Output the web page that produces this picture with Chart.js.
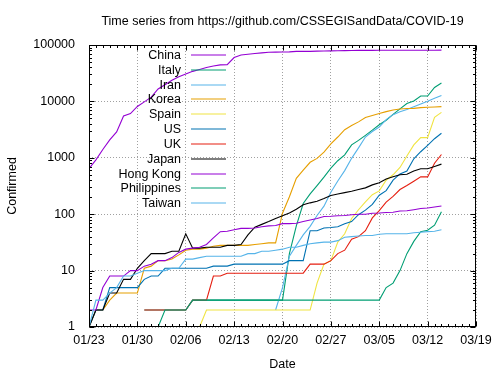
<!DOCTYPE html>
<html>
<head>
<meta charset="utf-8">
<script src="https://cdn.jsdelivr.net/npm/chart.js@4/dist/chart.umd.min.js"></script>
<style>
  html, body { margin: 0; padding: 0; background: #fff; }
  canvas { display: block; }
</style>
</head>
<body>
<canvas id="c" width="500" height="375"></canvas>
<script>
// ---- data (day 0 = 01/23 ... day 51 = 03/14) ----
const dates = ['01/23','01/24','01/25','01/26','01/27','01/28','01/29','01/30','01/31','02/01','02/02','02/03','02/04','02/05','02/06','02/07','02/08','02/09','02/10','02/11','02/12','02/13','02/14','02/15','02/16','02/17','02/18','02/19','02/20','02/21','02/22','02/23','02/24','02/25','02/26','02/27','02/28','02/29','03/01','03/02','03/03','03/04','03/05','03/06','03/07','03/08','03/09','03/10','03/11','03/12','03/13','03/14'];
const xTickLabels = ['01/23','01/30','02/06','02/13','02/20','02/27','03/05','03/12','03/19'];
const yTickLabels = ['1','10','100','1000','10000','100000'];
const yTickValues = [1,10,100,1000,10000,100000];
const countries = ['China','Italy','Iran','Korea','Spain','US','UK','Japan','Hong Kong','Philippines','Taiwan'];
const colors = ['#9400d3','#009e73','#56b4e9','#e69f00','#f0e442','#0072b2','#e51e10','#000000','#9400d3','#009e73','#56b4e9'];
const _ = null;
const china = [643,920,1406,2075,2877,5509,6087,8141,9802,11891,16630,19716,23707,27440,30587,34110,36814,39829,42354,44386,44759,59895,66358,68413,70513,72434,74211,74619,75077,75550,77001,77022,77241,77754,78166,78600,78928,79356,79932,80136,80261,80386,80537,80690,80770,80823,80860,80887,80921,80932,80945,80977];
const italy = [_,_,_,_,_,_,_,_,2,2,2,2,2,2,2,3,3,3,3,3,3,3,3,3,3,3,3,3,3,20,62,155,229,322,453,655,888,1128,1694,2036,2502,3089,3858,4636,5883,7375,9172,10149,12462,12462,17660,21157];
const iran = [_,_,_,_,_,_,_,_,_,_,_,_,_,_,_,_,_,_,_,_,_,_,_,_,_,_,_,2,5,18,28,43,61,95,139,245,388,593,978,1501,2336,2922,3513,4747,5823,6566,7161,8042,9000,10075,11364,12729];
const korea = [1,2,2,3,4,4,4,4,11,12,15,15,16,19,23,24,24,25,27,28,28,28,28,28,29,30,31,31,104,204,433,602,833,977,1261,1766,2337,3150,3736,4335,5186,5621,6088,6593,7041,7314,7478,7513,7755,7869,7979,8086];
const spain = [_,_,_,_,_,_,_,_,_,1,1,1,1,1,1,1,1,2,2,2,2,2,2,2,2,2,2,2,2,2,2,2,2,6,13,15,32,45,84,120,165,222,259,400,500,673,1073,1695,2277,2277,5232,6391];
const us = [1,2,2,5,5,5,5,5,7,8,8,11,11,11,11,11,11,11,12,12,12,13,13,13,13,13,13,13,13,15,15,15,51,51,57,58,60,68,74,98,118,149,217,262,402,518,583,959,1281,1663,2179,2726];
const uk = [_,_,_,_,_,_,_,_,2,2,2,2,2,2,2,3,3,3,8,8,9,9,9,9,9,9,9,9,9,9,9,9,13,13,13,15,20,23,36,40,51,86,116,164,207,274,322,384,459,459,802,1144];
const japan = [1,2,2,4,4,7,7,11,15,20,20,20,22,22,45,25,25,26,26,26,28,28,29,43,59,66,74,84,94,105,122,147,159,170,189,214,228,241,256,274,293,331,360,420,461,502,511,581,639,639,701,773];
const hongKong = [2,2,5,8,8,8,10,10,12,13,15,15,17,21,24,25,26,29,38,49,50,53,56,56,57,60,62,63,68,68,69,74,79,84,91,92,94,95,98,100,100,104,105,107,108,114,115,120,126,129,134,140];
const philippines = [_,_,_,_,_,_,_,1,1,1,1,2,2,2,2,3,3,3,3,3,3,3,3,3,3,3,3,3,3,3,3,3,3,3,3,3,3,3,3,3,3,3,3,5,6,10,20,33,49,52,64,111];
const taiwan = [1,3,3,4,5,8,8,9,10,10,10,10,11,11,16,16,17,18,18,18,18,18,18,20,20,22,22,23,24,26,26,28,30,31,32,32,34,39,40,41,42,42,44,45,45,45,45,47,48,49,50,53];
const seriesValues = [china, italy, iran, korea, spain, us, uk, japan, hongKong, philippines, taiwan];

const FONT = '"Liberation Sans", Arial, Helvetica, sans-serif';
const FS = 12.5;

const datasets = countries.map((name, i) => ({
  label: name,
  data: seriesValues[i].map((v, d) => ({ x: d, y: v })),
  borderColor: colors[i],
  backgroundColor: colors[i],
  borderWidth: 1.1,
  pointRadius: 0,
  tension: 0,
  spanGaps: false,
  order: countries.length - 1 - i
}));

const gnuplotLook = {
  id: 'gnuplotLook',
  afterDatasetsDraw(chart) {
    const { ctx, chartArea: a, scales: { x, y } } = chart;
    const L = Math.round(a.left) + 0.5, R = Math.round(a.right) - 0.5;
    const T = Math.round(a.top) + 0.5, B = Math.round(a.bottom) - 0.5;
    ctx.save();
    ctx.strokeStyle = '#000';
    ctx.lineWidth = 1;
    ctx.beginPath();
    // x ticks (major weekly, minor daily), inward on bottom and top
    for (let d = 0; d <= 56; d++) {
      const px = Math.round(x.getPixelForValue(d)) + 0.5;
      const len = (d % 7 === 0) ? 5 : 2.5;
      ctx.moveTo(px, B); ctx.lineTo(px, B - len);
      ctx.moveTo(px, T); ctx.lineTo(px, T + len);
    }
    // y ticks, inward on left and right
    for (let k = 0; k < 5; k++) {
      for (let m = 1; m <= 9; m++) {
        const v = m * Math.pow(10, k);
        const py = Math.round(y.getPixelForValue(v)) + 0.5;
        const len = m === 1 ? 5 : 2.5;
        ctx.moveTo(L, py); ctx.lineTo(L + len, py);
        ctx.moveTo(R, py); ctx.lineTo(R - len, py);
      }
    }
    ctx.stroke();
    ctx.strokeRect(L, T, R - L, B - T);

    // legend (gnuplot key: right-aligned text, sample to the right)
    ctx.font = FS + 'px ' + FONT;
    ctx.textAlign = 'right';
    ctx.textBaseline = 'middle';
    chart.data.datasets.forEach((ds, i) => {
      const ry = 55 + i * 14.83;
      ctx.fillStyle = '#000';
      ctx.fillText(ds.label, 181, ry + 0.5);
      ctx.strokeStyle = ds.borderColor;
      ctx.lineWidth = 1.2;
      ctx.beginPath();
      ctx.moveTo(191, Math.round(ry));
      ctx.lineTo(226, Math.round(ry));
      ctx.stroke();
    });

    // title and axis titles
    const cx = (a.left + a.right) / 2;
    ctx.fillStyle = '#000';
    ctx.textAlign = 'center';
    ctx.textBaseline = 'alphabetic';
    ctx.fillText('Time series from https://github.com/CSSEGISandData/COVID-19', cx, 24.5);
    ctx.fillText('Date', cx, 367.5);
    ctx.translate(15.5, (a.top + a.bottom) / 2);
    ctx.rotate(-Math.PI / 2);
    ctx.fillText('Confirmed', 0, 0);
    ctx.restore();
  }
};

Chart.defaults.font.family = FONT;
Chart.defaults.font.size = FS;
Chart.defaults.color = '#000';

new Chart(document.getElementById('c'), {
  type: 'line',
  data: { datasets },
  options: {
    responsive: false,
    devicePixelRatio: 1,
    animation: false,
    events: [],
    layout: { padding: { left: 0, right: 24, top: 45, bottom: 0 } },
    plugins: { legend: { display: false }, title: { display: false }, tooltip: { enabled: false } },
    scales: {
      x: {
        type: 'linear',
        min: 0,
        max: 56,
        afterBuildTicks: s => { s.ticks = xTickLabels.map((_, i) => ({ value: i * 7 })); },
        afterFit: s => { s.height = 48; },
        ticks: {
          callback: (v, i) => xTickLabels[i],
          color: '#000',
          padding: 6,
          maxRotation: 0,
          autoSkip: false
        },
        grid: { color: '#a0a0a0', lineWidth: 1, drawTicks: false },
        border: { display: false, dash: [1, 2] }
      },
      y: {
        type: 'logarithmic',
        min: 1,
        max: 100000,
        afterBuildTicks: s => { s.ticks = yTickValues.map(v => ({ value: v })); },
        afterFit: s => { s.width = 89; },
        ticks: {
          callback: (v, i) => yTickLabels[i],
          color: '#000',
          padding: 14,
          autoSkip: false
        },
        grid: { color: '#a0a0a0', lineWidth: 1, drawTicks: false },
        border: { display: false, dash: [1, 2] }
      }
    }
  },
  plugins: [gnuplotLook]
});
</script>
</body>
</html>
